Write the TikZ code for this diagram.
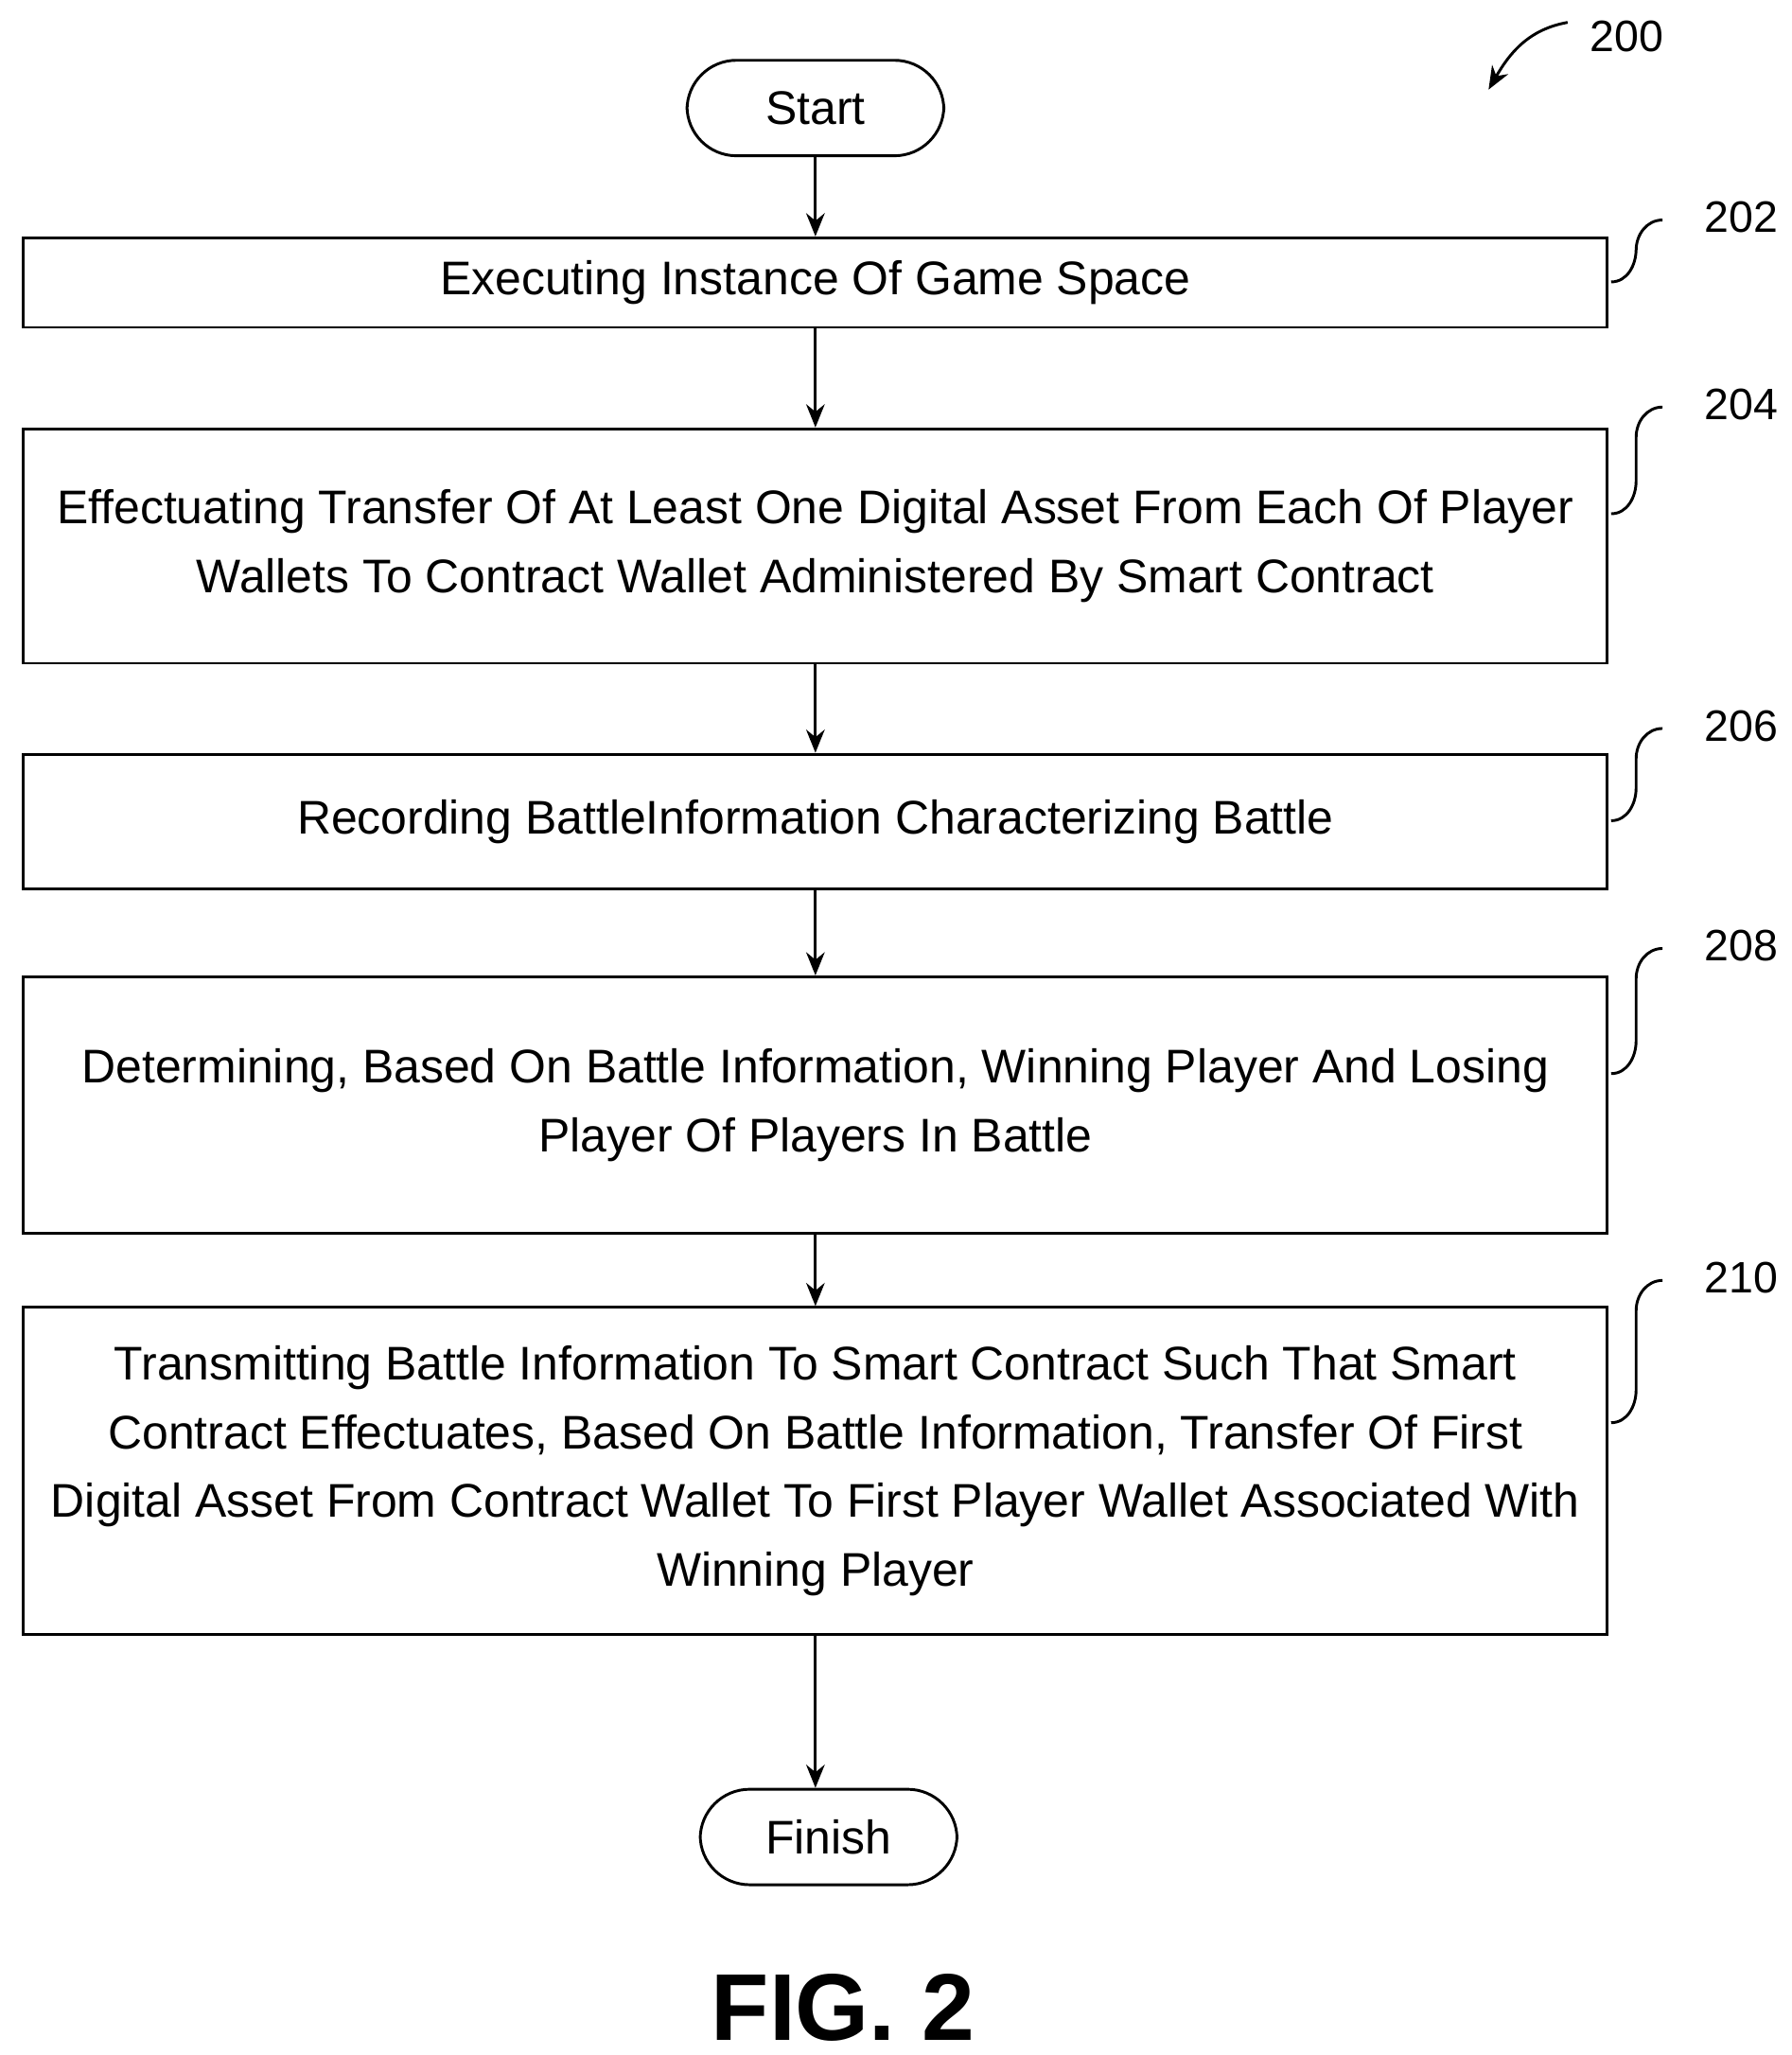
\documentclass[tikz,border=0pt]{standalone}
\usepackage{fontspec}
\setmainfont{Liberation Sans}
\usetikzlibrary{positioning,arrows.meta}
\tikzset{
  stepbox/.style={draw, line width=1.2pt, minimum width=24.05cm, align=center, inner sep=0pt, font=\fontsize{20.4}{29.6}\selectfont},
  term/.style={draw, line width=1.2pt, rounded corners=0.75cm, minimum width=3.9cm, minimum height=1.45cm, font=\fontsize{20.4}{26}\selectfont},
  flow/.style={-{Stealth[length=10pt,width=8pt]}, line width=1.2pt},
  ref/.style={font=\fontsize{19}{21}\selectfont},
  hook/.style={line width=1.2pt}
}
\begin{document}
\begin{tikzpicture}[x=0.02cm,y=-0.02cm]
  \useasboundingbox (0,0) rectangle (1360,1560);

  % Knoten
  \node[term] (start) at (619,82) {Start};
  \node[stepbox, minimum height=1.36cm] (s202) at (619,214.5) {Executing Instance Of Game Space};
  \node[stepbox, minimum height=3.56cm] (s204) at (619,414.5) {Effectuating Transfer Of At Least One Digital Asset From Each Of Player\\Wallets To Contract Wallet Administered By Smart Contract};
  \node[stepbox, minimum height=2.04cm] (s206) at (619,623.5) {Recording BattleInformation Characterizing Battle};
  \node[stepbox, minimum height=3.9cm] (s208) at (619,839) {Determining, Based On Battle Information, Winning Player And Losing\\Player Of Players In Battle};
  \node[stepbox, minimum height=4.96cm] (s210) at (619,1116.5) {Transmitting Battle Information To Smart Contract Such That Smart\\Contract Effectuates, Based On Battle Information, Transfer Of First\\Digital Asset From Contract Wallet To First Player Wallet Associated With\\Winning Player};
  \node[term] (finish) at (629,1394.5) {Finish};

  % Pfeile
  \draw[flow] (start) -- (s202);
  \draw[flow] (s202) -- (s204);
  \draw[flow] (s204) -- (s206);
  \draw[flow] (s206) -- (s208);
  \draw[flow] (s208) -- (s210);
  \draw[flow] (s210.south) -- (s210.south |- finish.north);

  % Bezugszeichen
  \foreach \nm/\lab/\yy/\ly in {s202/202/214/165, s204/204/390/307, s206/206/623/551, s208/208/815/718, s210/210/1080/970}{
    \node[ref] (l\lab) at (1322,\ly) {\lab};
    \draw[hook] (1223,\yy) to[out=0,in=270] (1242,\yy-25) -- (1242,\ly+25) to[out=90,in=180] (1262,\ly+2);
  }
  \node[ref] (l200) at (1235,28) {200};
  \coordinate (a200) at (1130,68);
  \draw[flow] (1190,17) to[out=190,in=60] (a200);

  \node[font=\bfseries\fontsize{41}{46}\selectfont] (fig) at (640,1524) {FIG. 2};
\end{tikzpicture}
\end{document}
